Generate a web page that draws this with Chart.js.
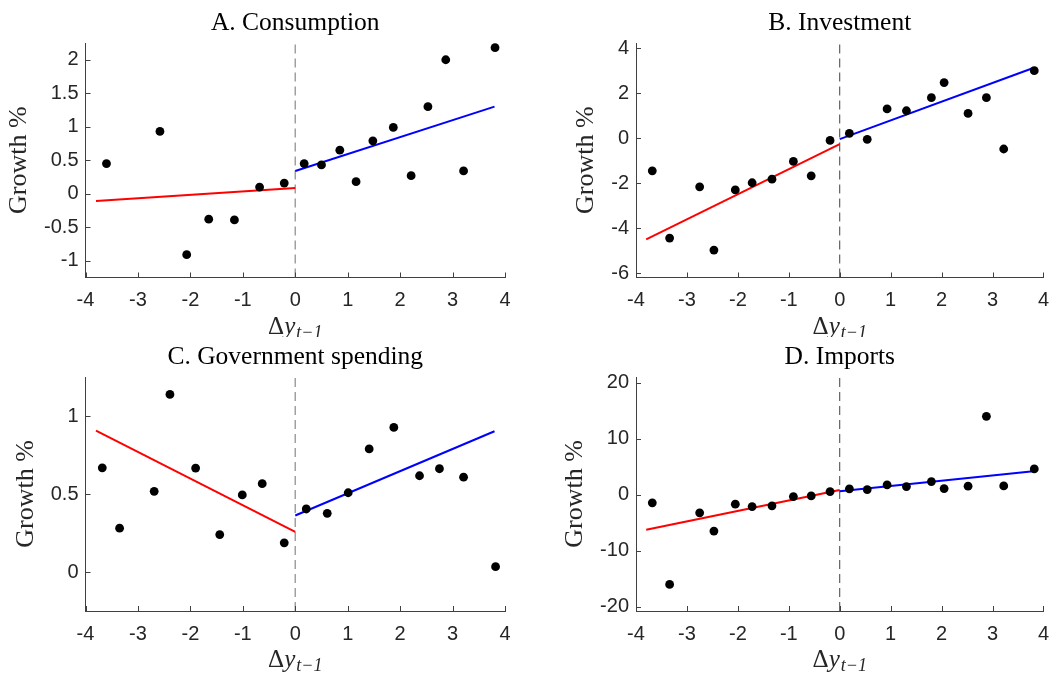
<!DOCTYPE html>
<html>
<head>
<meta charset="utf-8">
<script src="https://cdn.jsdelivr.net/npm/chart.js@4.4.1/dist/chart.umd.min.js"></script>
<style>
  html, body { margin: 0; padding: 0; background: #ffffff; }
  body { width: 1060px; height: 673px; position: relative; overflow: hidden; }
  canvas { position: absolute; }
</style>
</head>
<body>
<canvas id="cA" width="530" height="337" style="left:0px;top:0px;"></canvas>
<canvas id="cB" width="530" height="337" style="left:530px;top:0px;"></canvas>
<canvas id="cC" width="530" height="336" style="left:0px;top:337px;"></canvas>
<canvas id="cD" width="530" height="336" style="left:530px;top:337px;"></canvas>
<script>
// ---------- DATA ----------
const xTicks = [-4, -3, -2, -1, 0, 1, 2, 3, 4];
const fitNegX = [-3.8, 0];
const fitPosX = [0, 3.8];

// A. Consumption
const consX = [-3.60, -2.58, -2.07, -1.65, -1.16, -0.68, -0.21, 0.17, 0.50, 0.85, 1.16, 1.48, 1.87, 2.21, 2.53, 2.87, 3.21, 3.81];
const consY = [0.45, 0.93, -0.91, -0.38, -0.39, 0.10, 0.16, 0.45, 0.43, 0.65, 0.18, 0.79, 0.99, 0.27, 1.30, 2.00, 0.34, 2.18];
const consFitNegY = [-0.11, 0.085];
const consFitPosY = [0.34, 1.30];
const consTicks = [-1, -0.5, 0, 0.5, 1, 1.5, 2];
const consRange = [-1.25, 2.25];

// B. Investment
const invX = [-3.68, -3.34, -2.75, -2.47, -2.05, -1.72, -1.33, -0.91, -0.56, -0.19, 0.19, 0.54, 0.93, 1.31, 1.80, 2.05, 2.52, 2.88, 3.22, 3.82];
const invY = [-1.44, -4.43, -2.15, -4.96, -2.29, -1.97, -1.81, -1.02, -1.66, -0.09, 0.22, -0.04, 1.31, 1.23, 1.81, 2.48, 1.11, 1.81, -0.47, 3.01];
const invFitNegY = [-4.49, -0.25];
const invFitPosY = [-0.03, 3.13];
const invTicks = [-6, -4, -2, 0, 2, 4];
const invRange = [-6.18, 4.24];

// C. Government spending
const govX = [-3.68, -3.35, -2.69, -2.39, -1.90, -1.44, -1.01, -0.63, -0.21, 0.21, 0.61, 1.01, 1.41, 1.88, 2.37, 2.75, 3.21, 3.82];
const govY = [0.668, 0.281, 0.517, 1.138, 0.666, 0.240, 0.494, 0.566, 0.187, 0.404, 0.376, 0.508, 0.789, 0.927, 0.617, 0.662, 0.608, 0.034];
const govFitNegY = [0.906, 0.257];
const govFitPosY = [0.362, 0.902];
const govTicks = [0, 0.5, 1];
const govRange = [-0.25, 1.25];

// D. Imports
const impX = [-3.68, -3.34, -2.75, -2.47, -2.05, -1.72, -1.33, -0.91, -0.56, -0.19, 0.19, 0.54, 0.93, 1.31, 1.80, 2.05, 2.52, 2.88, 3.22, 3.82];
const impY = [-1.48, -16.05, -3.26, -6.53, -1.72, -2.14, -2.02, -0.36, -0.24, 0.54, 1.02, 0.89, 1.73, 1.43, 2.32, 1.07, 1.49, 13.97, 1.55, 4.58];
const impFitNegY = [-6.29, 0.83];
const impFitPosY = [0.6, 4.17];
const impTicks = [-20, -10, 0, 10, 20];
const impRange = [-20.8, 21.0];

const titles = ['A. Consumption', 'B. Investment', 'C. Government spending', 'D. Imports'];
const yLabel = 'Growth %';

// ---------- STYLE ----------
const TICK_FONT = { family: '"Liberation Sans", Arial, sans-serif', size: 20 };
const TEXT_COLOR = '#262626';
const AXIS_COLOR = '#404040';
const SERIF = '"Liberation Serif", "Times New Roman", serif';

const zip = (xs, ys) => xs.map((x, i) => ({ x: x, y: ys[i] }));

const panelText = {
  id: 'panelText',
  afterDraw(chart, args, opts) {
    const ctx = chart.ctx;
    const { left, right, top, bottom } = chart.chartArea;
    const xs = chart.scales.x, ys = chart.scales.y;
    ctx.save();
    // inward tick marks
    ctx.strokeStyle = AXIS_COLOR;
    ctx.lineWidth = 1;
    ctx.beginPath();
    xs.ticks.forEach(t => {
      const px = Math.round(xs.getPixelForValue(t.value)) + 0.5;
      ctx.moveTo(px, bottom); ctx.lineTo(px, bottom - 5);
    });
    ys.ticks.forEach(t => {
      const py = Math.round(ys.getPixelForValue(t.value)) + 0.5;
      ctx.moveTo(left, py); ctx.lineTo(left + 5, py);
    });
    ctx.stroke();

    ctx.fillStyle = '#000000';
    // title
    ctx.font = '25.5px ' + SERIF;
    ctx.textAlign = 'center';
    ctx.textBaseline = 'middle';
    ctx.fillText(opts.title, (left + right) / 2, top - 20);

    // y label
    ctx.font = TICK_FONT.size + 'px ' + TICK_FONT.family;
    let maxW = 0;
    ys.ticks.forEach(t => { maxW = Math.max(maxW, ctx.measureText(t.label).width); });
    const lx = left - 7 - maxW - 25;
    ctx.save();
    ctx.translate(lx, (top + bottom) / 2);
    ctx.rotate(-Math.PI / 2);
    ctx.font = '26px ' + SERIF;
    ctx.fillStyle = '#262626';
    ctx.textAlign = 'center';
    ctx.textBaseline = 'middle';
    ctx.fillText(opts.ylabel, 0, 0);
    ctx.restore();

    // x label: Δ y_{t−1}
    const base = bottom + 56;
    const f1 = '25px ' + SERIF, f2 = 'italic 25px ' + SERIF, f3 = 'italic 18px ' + SERIF;
    ctx.textAlign = 'left';
    ctx.textBaseline = 'alphabetic';
    ctx.font = f1; const wD = ctx.measureText('Δ').width;
    ctx.font = f2; const wY = ctx.measureText('y').width;
    ctx.font = f3; const wS = ctx.measureText('t−1').width;
    let x0 = (left + right) / 2 - (wD + wY + 1 + wS) / 2;
    ctx.fillStyle = '#262626';
    ctx.font = f1; ctx.fillText('Δ', x0, base); x0 += wD;
    ctx.font = f2; ctx.fillText('y', x0, base); x0 += wY + 1;
    ctx.font = f3; ctx.fillText('t−1', x0, base + 4);
    ctx.restore();
  }
};

function makePanel(id, cfg) {
  const H = document.getElementById(id).height;
  new Chart(document.getElementById(id), {
    type: 'scatter',
    data: {
      datasets: [
        { label: 'data', data: zip(cfg.x, cfg.y), backgroundColor: '#000000', borderColor: '#000000',
          pointRadius: 4.4, pointHoverRadius: 4.4, borderWidth: 0, showLine: false },
        { label: 'fitNeg', data: zip(fitNegX, cfg.neg), borderColor: '#ff0000', borderWidth: 2,
          pointRadius: 0, showLine: true, fill: false },
        { label: 'fitPos', data: zip(fitPosX, cfg.pos), borderColor: '#0000ff', borderWidth: 2,
          pointRadius: 0, showLine: true, fill: false },
        { label: 'zero', data: [{ x: 0, y: cfg.range[0] }, { x: 0, y: cfg.range[1] }],
          borderColor: cfg.dashColor, borderWidth: cfg.dashWidth, borderDash: [9, 5],
          pointRadius: 0, showLine: true, fill: false }
      ]
    },
    options: {
      responsive: false,
      animation: false,
      devicePixelRatio: 1,
      layout: { padding: { top: cfg.top, right: cfg.padRight, left: 0, bottom: 0 } },
      plugins: {
        legend: { display: false },
        tooltip: { enabled: false },
        panelText: { title: cfg.title, ylabel: yLabel }
      },
      scales: {
        x: {
          type: 'linear', min: -4, max: 4,
          afterBuildTicks: s => { s.ticks = xTicks.map(v => ({ value: v })); },
          afterFit: s => { s.height = H - cfg.bottom; },
          grid: { display: false, drawTicks: false },
          border: { display: true, color: AXIS_COLOR, width: 1 },
          ticks: { font: TICK_FONT, color: TEXT_COLOR, padding: 11, maxRotation: 0,
                   callback: v => String(v) }
        },
        y: {
          type: 'linear', min: cfg.range[0], max: cfg.range[1],
          afterBuildTicks: s => { s.ticks = cfg.ticks.map(v => ({ value: v })); },
          afterFit: s => { s.width = cfg.left; },
          grid: { display: false, drawTicks: false },
          border: { display: true, color: AXIS_COLOR, width: 1 },
          ticks: { font: TICK_FONT, color: TEXT_COLOR, padding: 7,
                   callback: v => String(v) }
        }
      }
    },
    plugins: [panelText]
  });
}

makePanel('cA', { x: consX, y: consY, neg: consFitNegY, pos: consFitPosY, ticks: consTicks, range: consRange,
  title: titles[0], dashColor: '#a0a0a0', dashWidth: 1.5, top: 43, bottom: 277.5, left: 85.5, padRight: 25 });
makePanel('cB', { x: invX, y: invY, neg: invFitNegY, pos: invFitPosY, ticks: invTicks, range: invRange,
  title: titles[1], dashColor: '#404040', dashWidth: 1, top: 43, bottom: 277.5, left: 106, padRight: 6 });
makePanel('cC', { x: govX, y: govY, neg: govFitNegY, pos: govFitPosY, ticks: govTicks, range: govRange,
  title: titles[2], dashColor: '#a0a0a0', dashWidth: 1.5, top: 40, bottom: 274, left: 85.5, padRight: 25 });
makePanel('cD', { x: impX, y: impY, neg: impFitNegY, pos: impFitPosY, ticks: impTicks, range: impRange,
  title: titles[3], dashColor: '#404040', dashWidth: 1, top: 40, bottom: 274, left: 106, padRight: 6 });
</script>
</body>
</html>
